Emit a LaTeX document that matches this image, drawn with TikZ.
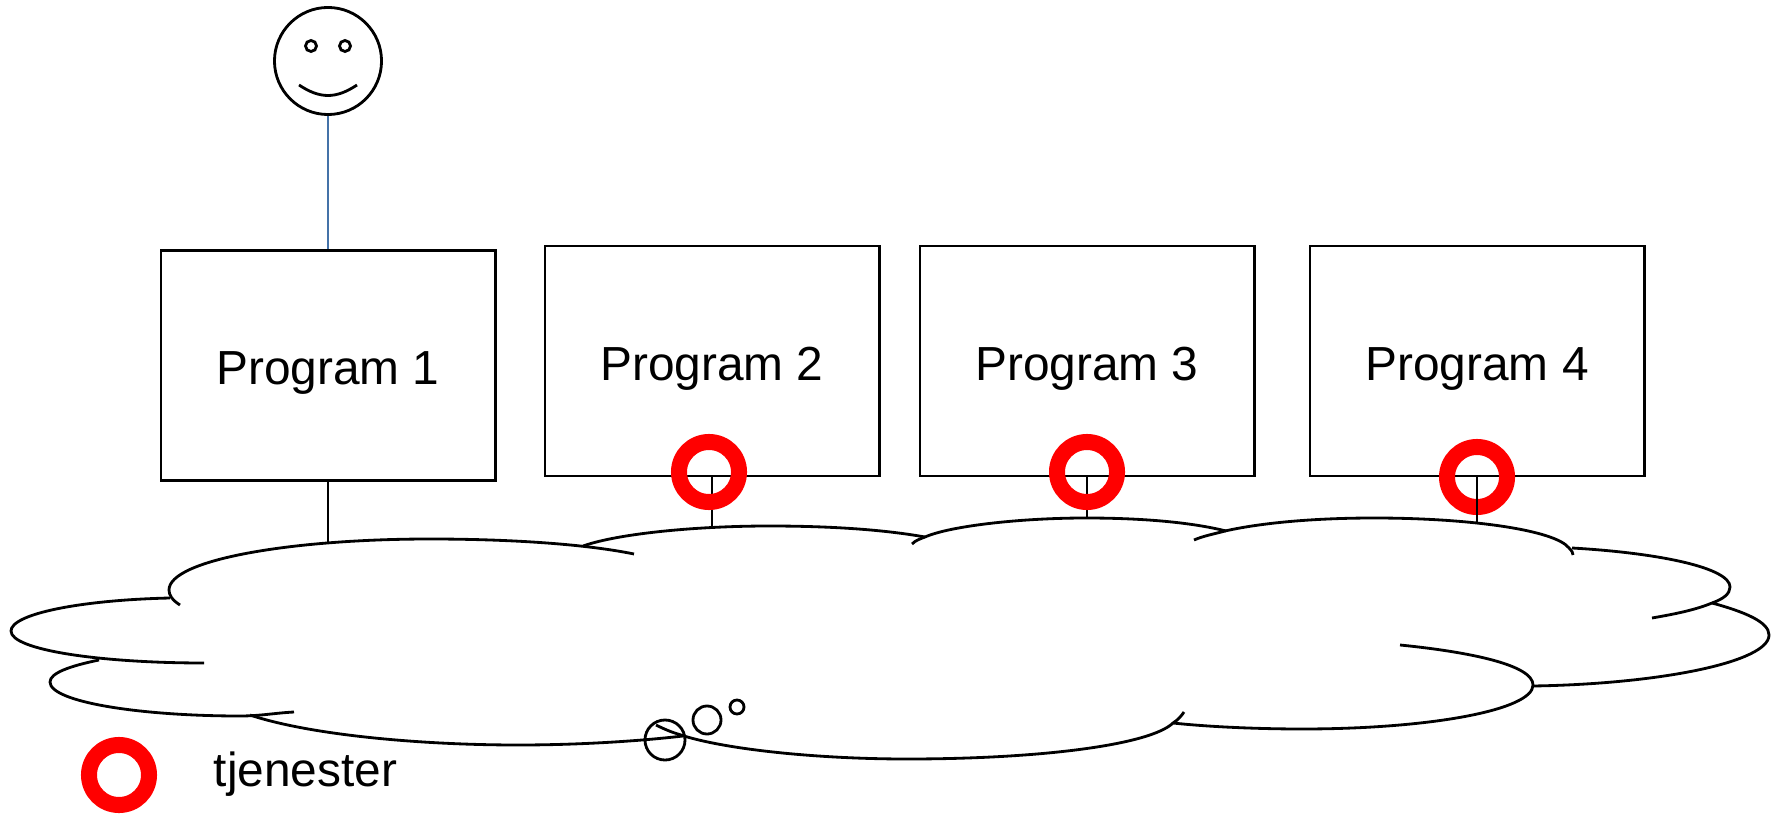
\documentclass[tikz,border=0pt]{standalone}
\usepackage{fontspec}
\setmainfont{Liberation Sans}
\definecolor{facelink}{HTML}{4472A8}
\tikzset{
    programbox/.style={draw,line width=0.8pt,minimum width=3.34cm,minimum height=2.30cm,inner sep=0pt,text height=0.38cm,text depth=0pt,font=\fontsize{13.6}{16}\selectfont},
    servicering/.style={draw=red,circle,line width=0.16cm,minimum size=0.60cm,inner sep=0pt},
    bubble/.style={draw,circle,line width=0.8pt,inner sep=0pt},
    cloudline/.style={line width=0.8pt},
}
\begin{document}
\begin{tikzpicture}[x=0.01cm,y=-0.01cm]
    \useasboundingbox (0,0) rectangle (1777,816);

    \coordinate (cloud1) at (328,544);
    \coordinate (cloud2) at (712,527);
    \coordinate (cloud3) at (1087,518);
    \coordinate (cloud4) at (1477,523);

    \node[programbox] (prog1) at (328,365.5) {Program 1};
    \node[programbox] (prog2) at (712,361) {Program 2};
    \node[programbox] (prog3) at (1087,361) {Program 3};
    \node[programbox] (prog4) at (1477,361) {Program 4};

    \node[bubble,minimum size=1.07cm] (face) at (328,61) {};
    \node[bubble,minimum size=0.11cm] (eyeL) at (311,46) {};
    \node[bubble,minimum size=0.11cm] (eyeR) at (345,46) {};
    \draw[cloudline] (299,85) .. controls (320,99) and (336,99) .. (357,85);

    \draw[cloudline,facelink] (face) -- (prog1);
    \draw[cloudline] (prog1) -- (cloud1);
    \draw[cloudline] (prog2.south) -- (cloud2);
    \draw[cloudline] (prog3.south) -- (cloud3);

    \node[servicering] (ring2) at (709,472) {};
    \node[servicering] (ring3) at (1087,472) {};
    \node[servicering] (ring4) at (1477,477) {};
    \draw[cloudline] (prog4.south) -- (cloud4);

    \draw[cloudline] (180,605) .. controls (172,600) and (169,595) .. (169,590) .. controls (169,560) and (290,539) .. (430,539) .. controls (500,539) and (580,543) .. (634,554);
    \draw[cloudline] (170,598) .. controls (80,600) and (11,614) .. (11,631) .. controls (11,650) and (100,663) .. (204,663);
    \draw[cloudline] (99,660) .. controls (70,666) and (50,673) .. (50,682) .. controls (50,702) and (140,716) .. (240,716) .. controls (260,716) and (275,713) .. (294,712);
    \draw[cloudline] (250,715) .. controls (310,735) and (420,745) .. (518,745) .. controls (580,745) and (640,741) .. (683,736);
    \draw[cloudline] (656,725) .. controls (670,732) and (675,733) .. (684,736) .. controls (730,750) and (820,759) .. (907,759) .. controls (1040,759) and (1150,745) .. (1173,723) .. controls (1178,720) and (1182,715) .. (1184,712);
    \draw[cloudline] (1173,723) .. controls (1210,727) and (1260,729) .. (1302,729) .. controls (1430,729) and (1533,710) .. (1533,685) .. controls (1533,665) and (1470,652) .. (1400,645);
    \draw[cloudline] (1533,686) .. controls (1660,684) and (1769,662) .. (1769,635) .. controls (1769,622) and (1745,612) .. (1712,603);
    \draw[cloudline] (1652,618) .. controls (1675,614) and (1695,610) .. (1712,603) .. controls (1723,599) and (1730,594) .. (1730,587) .. controls (1730,568) and (1660,553) .. (1572,548);
    \draw[cloudline] (1194,540) .. controls (1203,536) and (1214,534) .. (1225,531) .. controls (1265,522) and (1320,518) .. (1374,518) .. controls (1470,518) and (1555,530) .. (1569,548) .. controls (1572,551) and (1573,553) .. (1573,555);
    \draw[cloudline] (912,544) .. controls (916,540) and (920,539) .. (925,537) .. controls (950,526) and (1020,518) .. (1086,518) .. controls (1140,518) and (1190,522) .. (1226,531);
    \draw[cloudline] (583,546) .. controls (620,533) and (700,526) .. (769,526) .. controls (825,526) and (880,529) .. (925,537);

    \node[bubble,minimum size=0.40cm] (bubble1) at (665,740) {};
    \node[bubble,minimum size=0.28cm] (bubble2) at (707,720) {};
    \node[bubble,minimum size=0.14cm] (bubble3) at (737,707) {};

    \node[servicering] (legendring) at (119,775) {};
    \node[anchor=base west,inner sep=0pt,font=\fontsize{13.6}{16}\selectfont] (legendtext) at (213,786) {tjenester};
\end{tikzpicture}
\end{document}
